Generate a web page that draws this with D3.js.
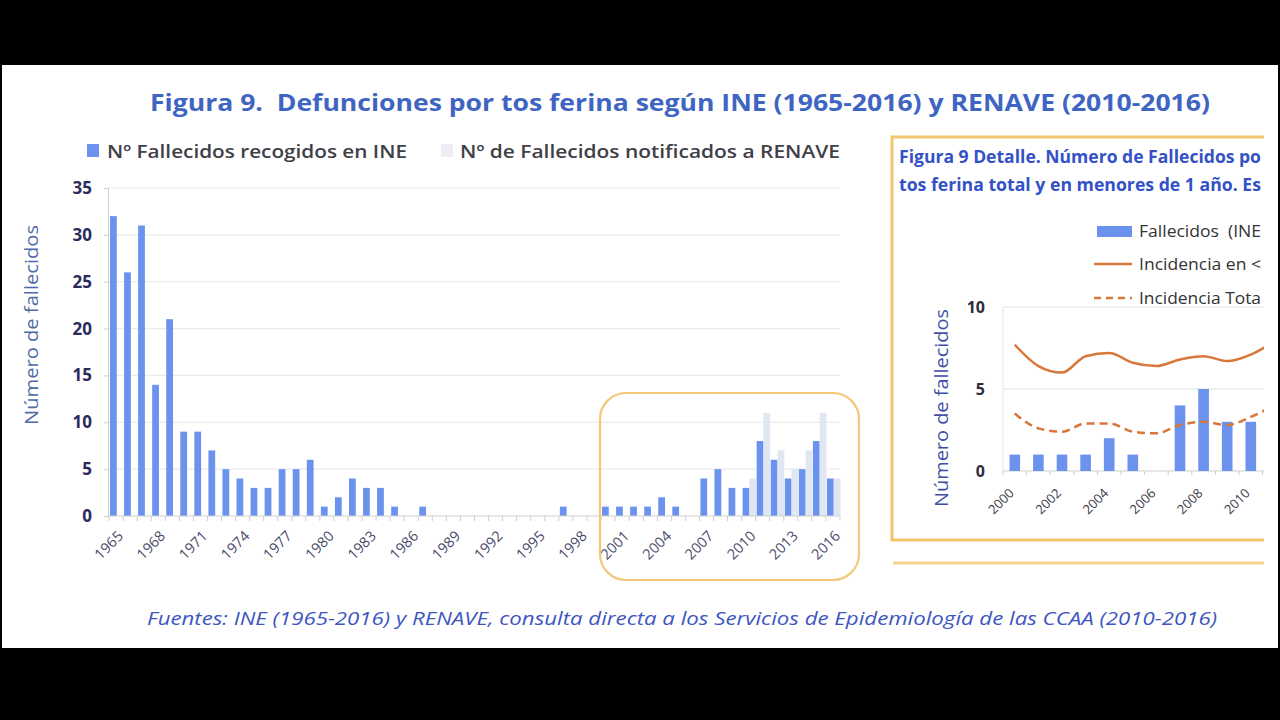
<!DOCTYPE html>
<html><head><meta charset="utf-8">
<script src="https://cdn.jsdelivr.net/npm/d3@7"></script>
<style>body{margin:0;background:#000;overflow:hidden}svg{display:block}text{white-space:pre}</style>
</head><body>
<svg id="c" width="1280" height="720"></svg>
<script>
// ---- data ----
const years = d3.range(1965, 2017);
const ineValues = [32,26,31,14,21,9,9,7,5,4,3,3,5,5,6,1,2,4,3,3,1,0,1,0,0,0,0,0,0,0,0,0,1,0,0,1,1,1,1,2,1,0,4,5,3,3,8,6,4,5,8,4];
const renaveYears = [2010,2011,2012,2013,2014,2015,2016];
const renaveValues = [4,11,7,5,7,11,4];
const yTicks = [0,5,10,15,20,25,30,35];
const xLabelYears = years.filter((y,i)=>i%3===0);

const insetYears = d3.range(2000, 2011);
const insetLineYears = d3.range(2000, 2012);
const incidMenor1 = [7.7,6.4,6.0,7.0,7.2,6.6,6.4,6.8,7.0,6.7,7.1,7.9];
const incidTotal  = [3.5,2.6,2.4,2.9,2.9,2.4,2.3,2.8,3.0,2.8,3.3,4.0];
const insetYTicks = [0,5,10];
const insetXLabelYears = insetYears.filter((y,i)=>i%2===0);

const BLUE = "#6b93ee", LIGHT = "#e1e6f3", ORANGE = "#d8773a", GOLD = "#f2c66e";
const FONT = "'Open Sans', 'Noto Sans', sans-serif";

const svg = d3.select("#c").style("font-family", FONT);
svg.append("rect").attr("x",0).attr("y",0).attr("width",1280).attr("height",720).attr("fill","#000");
svg.append("rect").attr("x",2).attr("y",65).attr("width",1276).attr("height",583).attr("fill","#fff");

// title
svg.append("text").attr("x",150).attr("y",111).attr("font-size",23).attr("font-weight","bold")
  .attr("fill","#3f65c2").attr("textLength",1060).attr("lengthAdjust","spacingAndGlyphs")
  .text("Figura 9.  Defunciones por tos ferina según INE (1965-2016) y RENAVE (2010-2016)");

// legend
svg.append("rect").attr("x",87).attr("y",144).attr("width",12).attr("height",13).attr("fill",BLUE);
svg.append("text").attr("x",107).attr("y",158).attr("font-size",18).attr("font-weight","600").attr("fill","#404048")
  .attr("textLength",300).attr("lengthAdjust","spacingAndGlyphs").text("Nº Fallecidos recogidos en INE");
svg.append("rect").attr("x",441).attr("y",144).attr("width",12).attr("height",13).attr("fill","#eceef3");
svg.append("text").attr("x",460).attr("y",158).attr("font-size",18).attr("font-weight","600").attr("fill","#404048")
  .attr("textLength",380).attr("lengthAdjust","spacingAndGlyphs").text("Nº de Fallecidos notificados a RENAVE");

// main chart scales
const x = d3.scaleBand().domain(years).range([109, 840]).paddingInner(0).paddingOuter(0);
const x1 = d3.scaleBand().domain(["INE","RENAVE"]).range([1, x.bandwidth()+0.5]).paddingInner(0);
const y = d3.scaleLinear().domain([0,35]).range([516,188]);

const g = svg.append("g");
g.selectAll("line.grid").data(yTicks.filter(t=>t>0)).join("line")
  .attr("x1",108).attr("x2",840).attr("y1",d=>y(d)).attr("y2",d=>y(d))
  .attr("stroke","#ebebeb").attr("stroke-width",1.2);
const yAxis = g.append("g").attr("transform","translate(108,0)").call(d3.axisLeft(y).tickValues(yTicks).tickSize(4).tickPadding(12));
yAxis.select(".domain").attr("stroke","#cfcfcf");
yAxis.selectAll(".tick line").attr("stroke","#cfcfcf");
yAxis.selectAll("text").attr("font-size",17).attr("font-weight","bold").attr("fill","#2b2c5c").attr("font-family",FONT);

g.selectAll("rect.ine").data(years.map((yr,i)=>({yr,v:ineValues[i]}))).join("rect")
  .attr("x",d=>x(d.yr)+x1("INE")).attr("width",x1.bandwidth())
  .attr("y",d=>y(d.v)).attr("height",d=>y(0)-y(d.v)).attr("fill",BLUE);
g.selectAll("rect.ren").data(renaveYears.map((yr,i)=>({yr,v:renaveValues[i]}))).join("rect")
  .attr("x",d=>x(d.yr)+x1("RENAVE")).attr("width",x1.bandwidth())
  .attr("y",d=>y(d.v)).attr("height",d=>y(0)-y(d.v)).attr("fill",LIGHT);

const xAxis = g.append("g").attr("transform","translate(0,516)")
  .call(d3.axisBottom(x).tickValues(xLabelYears).tickSize(0).tickPadding(0));
xAxis.select(".domain").remove();
g.append("line").attr("x1",108).attr("x2",840).attr("y1",516).attr("y2",516).attr("stroke","#cfcfcf").attr("stroke-width",1.2);
g.selectAll("line.xt").data(years.concat([2017])).join("line")
  .attr("x1",d=>d===2017?840:x(d)).attr("x2",d=>d===2017?840:x(d)).attr("y1",516).attr("y2",521).attr("stroke","#cfcfcf");
xAxis.selectAll("text").attr("font-size",14.5).attr("fill","#4b4c6c").attr("font-family",FONT)
  .attr("text-anchor","end").attr("dy",0)
  .attr("transform",function(){return `translate(${x.bandwidth()/2+1},21) rotate(-45)`;});

svg.append("text").attr("transform","translate(38,325) rotate(-90)").attr("text-anchor","middle")
  .attr("font-size",19).attr("fill","#4e6ba6").attr("textLength",200).attr("lengthAdjust","spacingAndGlyphs")
  .text("Número de fallecidos");

svg.append("rect").attr("x",600).attr("y",393).attr("width",259).attr("height",187).attr("rx",26)
  .attr("fill","none").attr("stroke","#f3c87a").attr("stroke-width",2.2);

svg.append("text").attr("x",147).attr("y",625).attr("font-size",19).attr("font-style","italic")
  .attr("fill","#3d56bf").attr("textLength",1070).attr("lengthAdjust","spacingAndGlyphs")
  .text("Fuentes: INE (1965-2016) y RENAVE, consulta directa a los Servicios de Epidemiología de las CCAA (2010-2016)");

// ---- inset (cut at the right edge as in the reference) ----
svg.append("defs").append("clipPath").attr("id","clipInset").append("rect")
  .attr("x",880).attr("y",120).attr("width",384).attr("height",460);
const ins = svg.append("g").attr("clip-path","url(#clipInset)");
ins.append("rect").attr("x",892).attr("y",137).attr("width",420).attr("height",403)
  .attr("fill","#fff").attr("stroke",GOLD).attr("stroke-width",3);
ins.append("line").attr("x1",893).attr("x2",1300).attr("y1",563).attr("y2",563).attr("stroke","#f3d38c").attr("stroke-width",3);

ins.append("text").attr("x",899).attr("y",163).attr("font-size",17).attr("font-weight","bold").attr("fill","#3452c6")
  .attr("textLength",362).attr("lengthAdjust","spacingAndGlyphs").text("Figura 9 Detalle. Número de Fallecidos po");
ins.append("text").attr("x",899).attr("y",191).attr("font-size",17).attr("font-weight","bold").attr("fill","#3452c6")
  .attr("textLength",362).attr("lengthAdjust","spacingAndGlyphs").text("tos ferina total y en menores de 1 año. Es");

ins.append("rect").attr("x",1097).attr("y",226).attr("width",35).attr("height",11).attr("fill",BLUE);
ins.append("text").attr("x",1139).attr("y",237).attr("font-size",16).attr("fill","#333")
  .attr("textLength",122).attr("lengthAdjust","spacingAndGlyphs").text("Fallecidos  (INE");
ins.append("line").attr("x1",1094).attr("x2",1132).attr("y1",264).attr("y2",264).attr("stroke",ORANGE).attr("stroke-width",2.5);
ins.append("text").attr("x",1139).attr("y",270).attr("font-size",16).attr("fill","#333")
  .attr("textLength",122).attr("lengthAdjust","spacingAndGlyphs").text("Incidencia en <");
ins.append("line").attr("x1",1094).attr("x2",1132).attr("y1",298).attr("y2",298).attr("stroke",ORANGE).attr("stroke-width",2.5).attr("stroke-dasharray","7,5");
ins.append("text").attr("x",1139).attr("y",304).attr("font-size",16).attr("fill","#333")
  .attr("textLength",122).attr("lengthAdjust","spacingAndGlyphs").text("Incidencia Tota");

const xi = d3.scaleBand().domain(insetLineYears).range([1003, 1003 + 23.6*insetLineYears.length]).paddingInner(0.55).paddingOuter(0.275);
const yi = d3.scaleLinear().domain([0,10]).range([471,307]);
ins.selectAll("line.ig").data([5,10]).join("line")
  .attr("x1",1003).attr("x2",1300).attr("y1",d=>yi(d)).attr("y2",d=>yi(d)).attr("stroke","#e2e2e8").attr("stroke-width",1.2);
ins.append("line").attr("x1",1003).attr("x2",1003).attr("y1",307).attr("y2",471).attr("stroke","#e6e6e6");
ins.append("line").attr("x1",1003).attr("x2",1300).attr("y1",471).attr("y2",471).attr("stroke","#cfcfcf").attr("stroke-width",1.2);
ins.selectAll("line.ixt").data(insetLineYears).join("line")
  .attr("x1",d=>xi(d)-xi.step()*xi.paddingInner()/2).attr("x2",d=>xi(d)-xi.step()*xi.paddingInner()/2)
  .attr("y1",471).attr("y2",475).attr("stroke","#cfcfcf");
ins.selectAll("text.iyt").data(insetYTicks).join("text")
  .attr("x",985).attr("y",d=>yi(d)+6).attr("text-anchor","end").attr("font-size",16).attr("font-weight","bold")
  .attr("fill","#2b2c3c").text(d=>d);
ins.selectAll("rect.ib").data(insetYears.map(yr=>({yr,v:ineValues[years.indexOf(yr)]}))).join("rect")
  .attr("x",d=>xi(d.yr)).attr("width",xi.bandwidth()).attr("y",d=>yi(d.v)).attr("height",d=>yi(0)-yi(d.v)).attr("fill",BLUE);
const lineGen = vals => d3.line().curve(d3.curveMonotoneX)
  .x((d,i)=>xi(insetLineYears[i])+xi.bandwidth()/2).y(d=>yi(d))(vals);
ins.append("path").attr("d",lineGen(incidMenor1)).attr("fill","none").attr("stroke",ORANGE).attr("stroke-width",2.5);
ins.append("path").attr("d",lineGen(incidTotal)).attr("fill","none").attr("stroke",ORANGE).attr("stroke-width",2.5).attr("stroke-dasharray","8,5");
ins.selectAll("text.ixl").data(insetXLabelYears).join("text")
  .attr("transform",d=>`translate(${xi(d)+xi.bandwidth()/2},${494}) rotate(-45)`)
  .attr("text-anchor","end").attr("font-size",13).attr("fill","#3a3a48").text(d=>d);
ins.append("text").attr("transform","translate(948,408) rotate(-90)").attr("text-anchor","middle")
  .attr("font-size",19).attr("fill","#3c4fa6").attr("textLength",198).attr("lengthAdjust","spacingAndGlyphs")
  .text("Número de fallecidos");
</script>
</body></html>
